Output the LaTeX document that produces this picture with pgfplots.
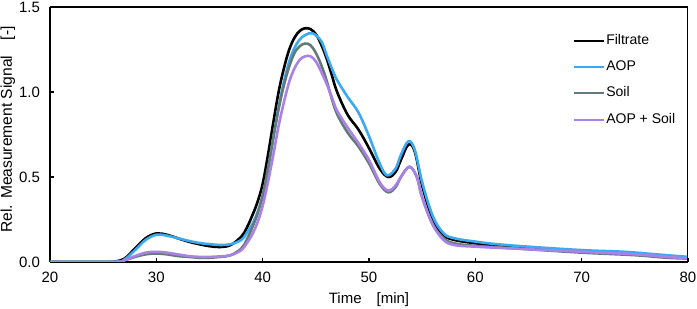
\documentclass[border=0pt]{standalone}
\usepackage{pgfplots}
\pgfplotsset{compat=1.18}
\usepackage{fontspec}
\setmainfont{Liberation Sans}
\definecolor{cBlue}{RGB}{60,170,240}
\definecolor{cGrey}{RGB}{100,122,122}
\definecolor{cPurple}{RGB}{170,130,230}
\begin{document}
\begin{tikzpicture}
\begin{axis}[
  scale only axis,
  width=319pt, height=127.5pt,
  xmin=20, xmax=80, ymin=0, ymax=1.5,
  xtick={20,30,...,80}, ytick={0,0.5,1,1.5},
  axis x line*=bottom, axis y line*=left,
  axis line style={line width=0.8pt, -},
  tick align=inside, major tick length=2pt,
  tick style={line width=0.7pt, black},
  /pgf/number format/assume math mode=true,
  /pgf/number format/fixed, /pgf/number format/fixed zerofill,
  /pgf/number format/precision=1,
  xticklabel={\pgfmathprintnumber[precision=0,fixed zerofill=false]{\tick}},
  tick label style={font=\fontsize{7.5}{8}\selectfont},
  xticklabel style={yshift=-1.5pt},
  yticklabel style={xshift=-1.5pt},
  xlabel={Time\quad[min]},
  ylabel={Rel. Measurement Signal\quad[-]},
  every axis x label/.style={at={(axis description cs:0.5,0)}, anchor=center, yshift=-19pt, font=\fontsize{7.5}{9}\selectfont},
  every axis y label/.style={at={(axis description cs:-0.066,0.52)}, rotate=90, anchor=center, font=\fontsize{7.8}{9}\selectfont},
  legend style={draw=none, fill=none, at={(axis cs:69.1,1.35)}, anchor=north west,
    font=\fontsize{7}{8}\selectfont, row sep=5pt, inner sep=0pt,
    nodes={inner sep=0.8pt}},
  legend cell align=left,
  legend image code/.code={\draw[#1, line width=1.1pt] (0pt,0pt) -- (15pt,0pt);},
  every axis plot/.append style={line width=1.3pt, smooth, tension=0.6},
  clip=true,
]
\addplot[black] coordinates {
(20,0) (25,0) (26,0.002) (27,0.02) (28,0.08) (29,0.14) (30,0.168) (31,0.16) (32,0.14) (33,0.12) (34,0.105) (35,0.093) (36,0.088) (37,0.1) (38,0.15) (38.5,0.2) (39,0.27) (39.5,0.35) (40,0.46) (40.5,0.63) (41,0.82) (41.5,1.0) (42,1.14) (42.5,1.25) (43,1.32) (43.5,1.36) (44,1.375) (44.5,1.37) (45,1.34) (45.5,1.28) (46,1.2) (46.5,1.1) (47,1.0) (48,0.865) (49,0.78) (50,0.67) (51,0.55) (51.8,0.5) (52.5,0.53) (53,0.6) (53.7,0.69) (54.3,0.65) (55,0.45) (56,0.25) (57,0.16) (58,0.13) (60,0.11) (62,0.095) (65,0.08) (70,0.06) (75,0.045) (78,0.03) (80,0.025)
};
\addlegendentry{Filtrate}
\addplot[cBlue] coordinates {
(20,0) (26,0.002) (27,0.015) (28,0.07) (29,0.13) (30,0.16) (31,0.155) (32,0.14) (33,0.125) (34,0.112) (35,0.105) (36,0.1) (37,0.105) (38,0.13) (38.5,0.17) (39,0.22) (39.5,0.29) (40,0.39) (40.5,0.54) (41,0.73) (41.5,0.91) (42,1.06) (42.5,1.18) (43,1.26) (43.5,1.31) (44,1.335) (44.7,1.345) (45.5,1.3) (46,1.22) (46.5,1.14) (47,1.07) (48,0.97) (49,0.88) (50,0.74) (51,0.58) (51.7,0.51) (52.5,0.55) (53,0.63) (53.7,0.71) (54.3,0.66) (55,0.47) (56,0.27) (57,0.17) (58,0.14) (60,0.12) (62,0.105) (65,0.09) (70,0.07) (74,0.06) (77,0.045) (80,0.03)
};
\addlegendentry{AOP}
\addplot[cGrey] coordinates {
(20,0) (26,0) (27,0.01) (28,0.03) (29,0.045) (30,0.05) (31,0.045) (32,0.035) (33,0.03) (34,0.025) (35,0.025) (36,0.03) (37,0.04) (38,0.08) (38.5,0.13) (39,0.2) (39.5,0.28) (40,0.39) (40.5,0.55) (41,0.73) (41.5,0.9) (42,1.04) (42.5,1.15) (43,1.23) (43.5,1.27) (44,1.285) (44.5,1.275) (45,1.23) (45.5,1.16) (46,1.07) (46.5,0.96) (47,0.87) (48,0.76) (49,0.68) (50,0.58) (51,0.46) (51.8,0.41) (52.5,0.44) (53,0.5) (53.8,0.56) (54.5,0.5) (55,0.38) (56,0.22) (57,0.14) (58,0.11) (60,0.095) (65,0.075) (70,0.055) (75,0.04) (78,0.025) (80,0.02)
};
\addlegendentry{Soil}
\addplot[cPurple] coordinates {
(20,0) (26,0) (27,0.01) (28,0.035) (29,0.055) (30,0.06) (31,0.055) (32,0.045) (33,0.035) (34,0.03) (35,0.03) (36,0.033) (37,0.04) (38,0.07) (38.5,0.11) (39,0.16) (39.5,0.23) (40,0.33) (40.5,0.47) (41,0.63) (41.5,0.8) (42,0.94) (42.5,1.06) (43,1.14) (43.5,1.19) (44,1.21) (44.5,1.21) (45,1.18) (45.5,1.12) (46,1.05) (46.5,0.97) (47,0.89) (48,0.79) (49,0.7) (50,0.6) (51,0.47) (51.8,0.42) (52.5,0.45) (53,0.5) (53.8,0.56) (54.5,0.5) (55,0.38) (56,0.22) (57,0.13) (58,0.1) (60,0.09) (65,0.075) (70,0.06) (75,0.045) (78,0.03) (80,0.02)
};
\addlegendentry{AOP + Soil}
\draw[line width=0.8pt] (axis cs:20,1.5) -- (axis cs:80,1.5) -- (axis cs:80,0);
\end{axis}
\pgfresetboundingbox
\path (-25pt,-23.5pt) rectangle (323.5pt,131pt);
\end{tikzpicture}
\end{document}
